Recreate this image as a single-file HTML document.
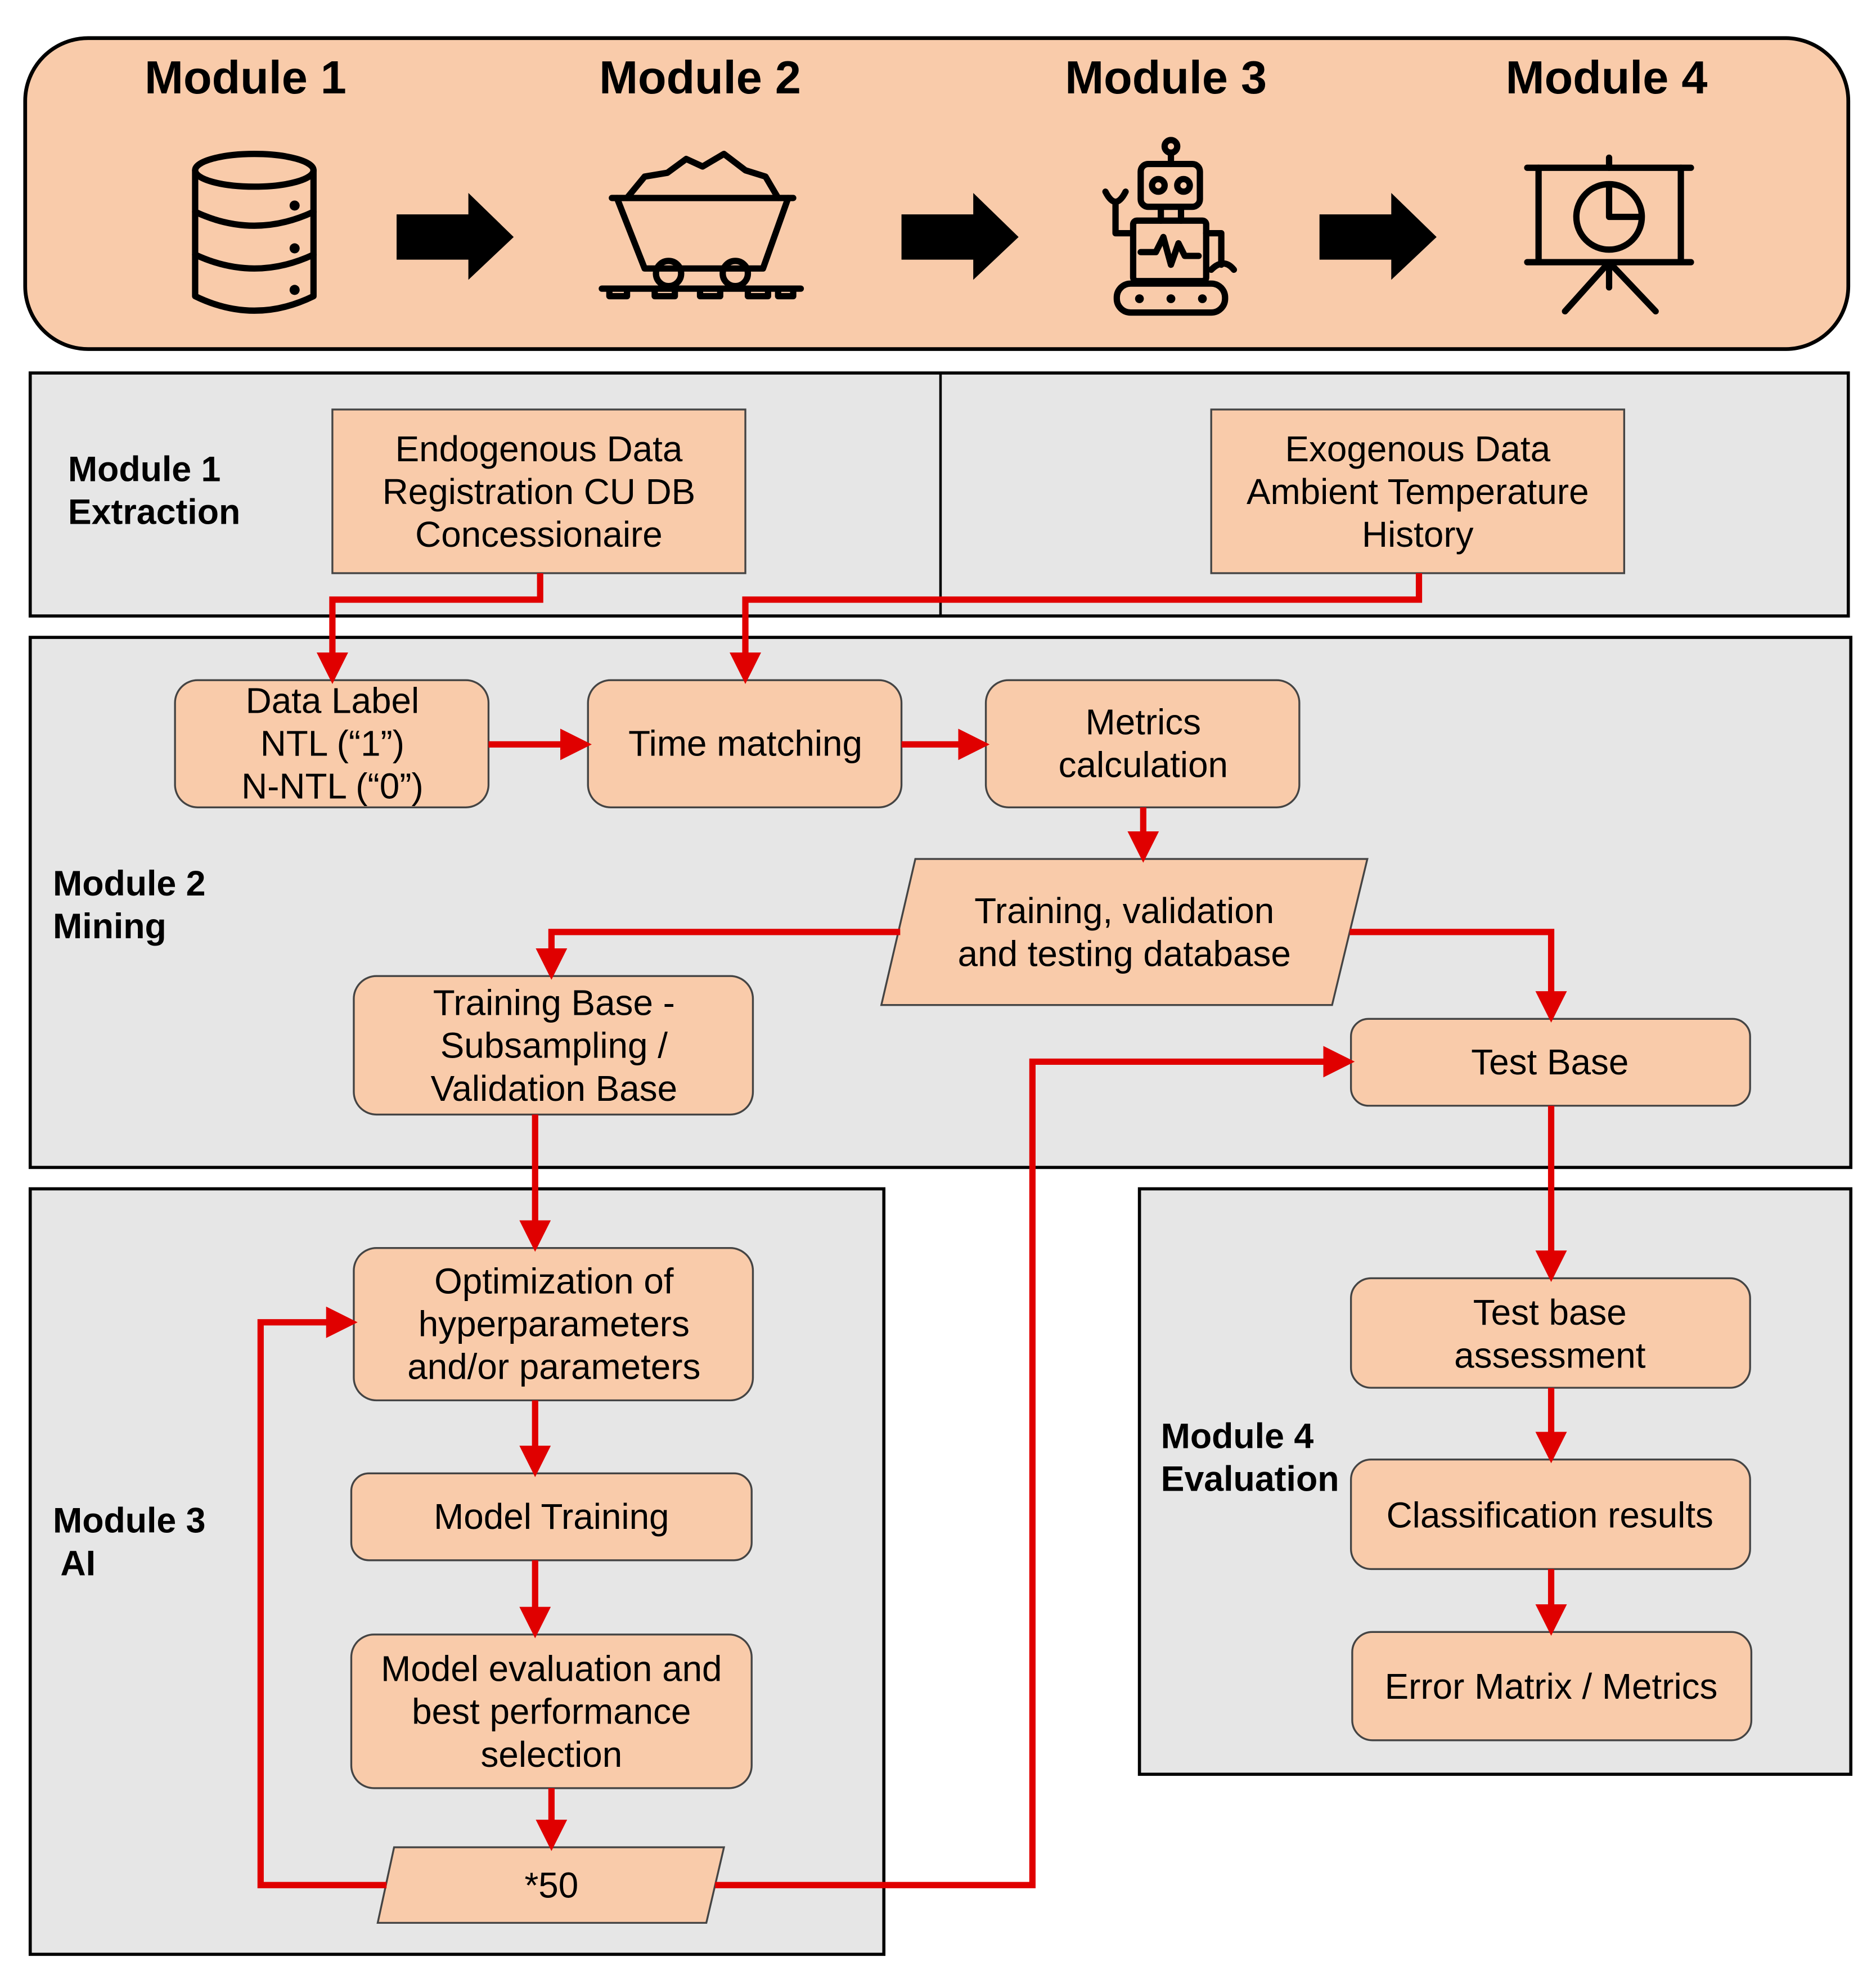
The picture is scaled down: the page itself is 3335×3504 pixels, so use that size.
<!DOCTYPE html>
<html><head><meta charset="utf-8">
<style>
html,body{margin:0;padding:0;background:#fff;}
svg{display:block;}
text{font-family:"Liberation Sans",Arial,sans-serif;}
.t{font-size:28.5px;text-anchor:middle;fill:#000;}
.b{font-size:28px;font-weight:bold;fill:#000;}
.h{font-size:37px;font-weight:bold;text-anchor:middle;fill:#000;}
.bx{fill:#F9CBAA;stroke:#444;stroke-width:1.5;}
.pn{fill:#E6E6E6;stroke:#000;stroke-width:2.5;}
.r{fill:none;stroke:#E00000;stroke-width:5;}
.ic{fill:none;stroke:#000;stroke-width:5;stroke-linejoin:round;stroke-linecap:round;}
</style></head><body>
<svg width="3335" height="3504" viewBox="0 0 1490 1565" xmlns="http://www.w3.org/2000/svg">
<defs>
<marker id="a" markerWidth="5" markerHeight="5" refX="4" refY="2.5" orient="auto" markerUnits="strokeWidth">
<path d="M0,0 L5,2.5 L0,5 z" fill="#E00000"/>
</marker>
</defs>
<rect width="1490" height="1565" fill="#fff"/>
<rect x="20" y="30" width="1448" height="247" rx="50" fill="#F9CBAA" stroke="#000" stroke-width="3"/>
<text class="h" x="195" y="74">Module 1</text>
<text class="h" x="556" y="74">Module 2</text>
<text class="h" x="926" y="74">Module 3</text>
<text class="h" x="1276" y="74">Module 4</text>
<g fill="#000">
<path d="M315,170 H372 V153 L408,188 L372,222 V206 H315 z"/>
<path d="M716,170 H773 V153 L809,188 L773,222 V206 H716 z"/>
<path d="M1048,170 H1105 V153 L1141,188 L1105,222 V206 H1048 z"/>
</g>
<g class="ic">
<ellipse cx="202" cy="135" rx="47" ry="13"/>
<path d="M155,135 V235 Q202,258 249,235 V135"/>
<path d="M155,168 Q202,190 249,168"/>
<path d="M155,202 Q202,224 249,202"/>
</g>
<g fill="#000"><circle cx="234" cy="163" r="4"/><circle cx="234" cy="197" r="4"/><circle cx="234" cy="230" r="4"/></g>
<g class="ic">
<path d="M486,157 H630"/>
<path d="M490,157 L512,213 H606 L626,157"/>
<path d="M498,157 L512,140 L530,137 L545,126 L558,132 L575,122 L592,135 L608,140 L618,157"/>
<circle cx="531" cy="217" r="10"/><circle cx="584" cy="217" r="10"/>
<path d="M478,229 H636"/>
<path d="M484,229 V235 H498 V229 M520,229 V235 H536 V229 M556,229 V235 H572 V229 M594,229 V235 H610 V229 M618,229 V235 H630 V229"/>
</g>
<g class="ic">
<circle cx="930" cy="116" r="5"/><path d="M930,121 V130"/>
<rect x="906" y="130" width="47" height="34" rx="6"/>
<circle cx="920" cy="147" r="5"/><circle cx="940" cy="147" r="5"/>
<path d="M922,164 V175 M938,164 V175"/>
<rect x="900" y="175" width="58" height="48" rx="3"/>
<path d="M906,200 H918 L924,188 L930,210 L936,193 L941,203 H952"/>
<path d="M900,185 H886 V160 M878,152 Q886,168 894,152"/>
<path d="M958,185 H970 V210 M962,214 Q972,204 980,214"/>
<rect x="887" y="225" width="86" height="23" rx="11"/>
</g>
<g fill="#000"><circle cx="905" cy="237" r="3.5"/><circle cx="930" cy="237" r="3.5"/><circle cx="955" cy="237" r="3.5"/></g>
<g class="ic">
<path d="M1278,125 V133"/>
<path d="M1213,133 H1343"/>
<path d="M1222,133 V207 M1335,133 V207"/>
<path d="M1213,208 H1343"/>
<circle cx="1278" cy="172" r="26"/>
<path d="M1278,148 V172 H1302"/>
<path d="M1278,208 L1243,247 M1278,208 L1315,247 M1278,208 V228"/>
</g>
<rect class="pn" x="24" y="296" width="1444" height="193"/>
<line x1="747" y1="296" x2="747" y2="489" stroke="#000" stroke-width="2"/>
<text class="b" x="54" y="382">Module 1</text>
<text class="b" x="54" y="416">Extraction</text>
<rect class="bx" x="264" y="325" width="328" height="130"/>
<text class="t" x="428" y="366">Endogenous Data</text>
<text class="t" x="428" y="400">Registration CU DB</text>
<text class="t" x="428" y="434">Concessionaire</text>
<rect class="bx" x="962" y="325" width="328" height="130"/>
<text class="t" x="1126" y="366">Exogenous Data</text>
<text class="t" x="1126" y="400">Ambient Temperature</text>
<text class="t" x="1126" y="434">History</text>
<rect class="pn" x="24" y="506" width="1446" height="421"/>
<text class="b" x="42" y="711">Module 2</text>
<text class="b" x="42" y="745">Mining</text>
<rect class="bx" x="139" y="540" width="249" height="101" rx="18"/>
<text class="t" x="264" y="566">Data Label</text>
<text class="t" x="264" y="600">NTL (“1”)</text>
<text class="t" x="264" y="634">N-NTL (“0”)</text>
<rect class="bx" x="467" y="540" width="249" height="101" rx="18"/>
<text class="t" x="592" y="600">Time matching</text>
<rect class="bx" x="783" y="540" width="249" height="101" rx="18"/>
<text class="t" x="908" y="583">Metrics</text>
<text class="t" x="908" y="617">calculation</text>
<polygon class="bx" points="727,682 1086,682 1058,798 700,798"/>
<text class="t" x="893" y="733">Training, validation</text>
<text class="t" x="893" y="767">and testing database</text>
<rect class="bx" x="281" y="775" width="317" height="110" rx="18"/>
<text class="t" x="440" y="806">Training Base -</text>
<text class="t" x="440" y="840">Subsampling /</text>
<text class="t" x="440" y="874">Validation Base</text>
<rect class="bx" x="1073" y="809" width="317" height="69" rx="14"/>
<text class="t" x="1231" y="853">Test Base</text>
<rect class="pn" x="24" y="944" width="678" height="608"/>
<text class="b" x="42" y="1217">Module 3</text>
<text class="b" x="48" y="1251">AI</text>
<rect class="bx" x="281" y="991" width="317" height="121" rx="18"/>
<text class="t" x="440" y="1027">Optimization of</text>
<text class="t" x="440" y="1061">hyperparameters</text>
<text class="t" x="440" y="1095">and/or parameters</text>
<rect class="bx" x="279" y="1170" width="318" height="69" rx="14"/>
<text class="t" x="438" y="1214">Model Training</text>
<rect class="bx" x="279" y="1298" width="318" height="122" rx="18"/>
<text class="t" x="438" y="1335">Model evaluation and</text>
<text class="t" x="438" y="1369">best performance</text>
<text class="t" x="438" y="1403">selection</text>
<polygon class="bx" points="313,1467 575,1467 561,1527 300,1527"/>
<text class="t" x="438" y="1507">*50</text>
<rect class="pn" x="905" y="944" width="565" height="465"/>
<text class="b" x="922" y="1150">Module 4</text>
<text class="b" x="922" y="1184">Evaluation</text>
<rect class="bx" x="1073" y="1015" width="317" height="87" rx="16"/>
<text class="t" x="1231" y="1052">Test base</text>
<text class="t" x="1231" y="1086">assessment</text>
<rect class="bx" x="1073" y="1159" width="317" height="87" rx="16"/>
<text class="t" x="1231" y="1213">Classification results</text>
<rect class="bx" x="1074" y="1296" width="317" height="86" rx="16"/>
<text class="t" x="1232" y="1349">Error Matrix / Metrics</text>
<g class="r" stroke-linejoin="miter">
<path d="M429,455 V476 H264 V538" marker-end="url(#a)"/>
<path d="M1127,455 V476 H592 V538" marker-end="url(#a)"/>
<path d="M388,591 H465" marker-end="url(#a)"/>
<path d="M716,591 H781" marker-end="url(#a)"/>
<path d="M908,641 V680" marker-end="url(#a)"/>
<path d="M715,740 H438 V773" marker-end="url(#a)"/>
<path d="M1072,740 H1232 V807" marker-end="url(#a)"/>
<path d="M425,885 V989" marker-end="url(#a)"/>
<path d="M1232,878 V1013" marker-end="url(#a)"/>
<path d="M425,1112 V1168" marker-end="url(#a)"/>
<path d="M425,1239 V1296" marker-end="url(#a)"/>
<path d="M438,1420 V1465" marker-end="url(#a)"/>
<path d="M307,1497 H207 V1050 H279" marker-end="url(#a)"/>
<path d="M568,1497 H820 V843 H1071" marker-end="url(#a)"/>
<path d="M1232,1102 V1157" marker-end="url(#a)"/>
<path d="M1232,1246 V1294" marker-end="url(#a)"/>
</g>
</svg>
</body></html>
